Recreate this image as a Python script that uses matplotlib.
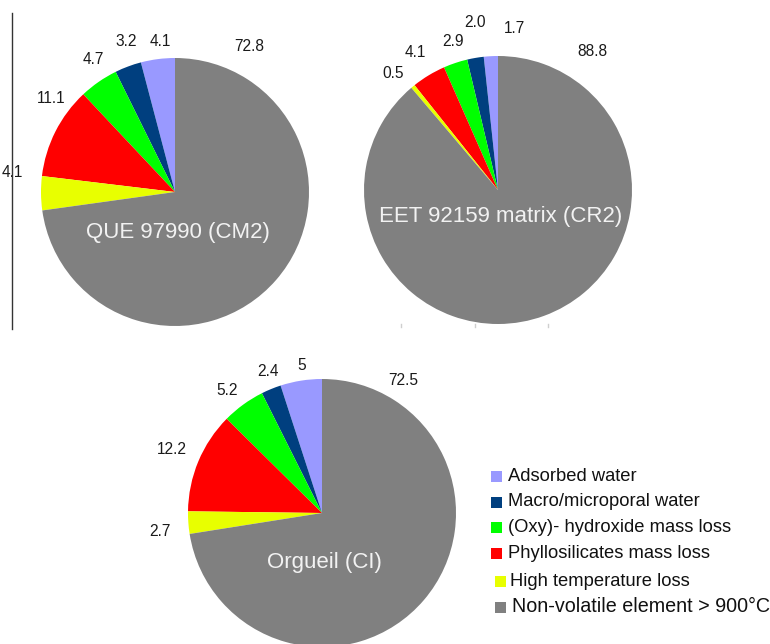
import matplotlib
matplotlib.use("Agg")
import matplotlib.pyplot as plt
from matplotlib.patches import Rectangle
from matplotlib.lines import Line2D
import numpy as np

plt.rcParams['font.family'] = ['Liberation Sans', 'DejaVu Sans']

# ---------------- data ----------------
categories = ["Adsorbed water", "Macro/microporal water", "(Oxy)- hydroxide mass loss",
              "Phyllosilicates mass loss", "High temperature loss", "Non-volatile element > 900°C"]
colors = ["#9999FF", "#003F7F", "#00FF00", "#FF0000", "#E8FF00", "#808080"]

sample_names = ["QUE 97990 (CM2)", "EET 92159 matrix (CR2)", "Orgueil (CI)"]
que_values = [4.1, 3.2, 4.7, 11.1, 4.1, 72.8]
eet_values = [1.7, 2.0, 2.9, 4.1, 0.5, 88.8]
org_values = [5.0, 2.4, 5.2, 12.2, 2.7, 72.5]
que_labels = ["4.1", "3.2", "4.7", "11.1", "4.1", "72.8"]
eet_labels = ["1.7", "2.0", "2.9", "4.1", "0.5", "88.8"]
org_labels = ["5", "2.4", "5.2", "12.2", "2.7", "72.5"]

# ---------------- layout ----------------
W, H = 770, 644
fig = plt.figure(figsize=(W / 100, H / 100), dpi=100)

R_PX = 134.0
L = 1.3
S = 2 * L * R_PX

pie_centers = [(175, 192), (498, 190), (322, 513)]  # pixels from top-left
label_angles = [
    [95.7, 108, 121.8, 143, 173, 62.8],
    [84, 98, 107, 121, 132, 55.5],
    [97.7, 111, 127.7, 157, 186.5, 58.6],
]
label_dists = [
    [1.13, 1.18, 1.16, 1.16, 1.22, 1.22],
    [1.21, 1.26, 1.16, 1.20, 1.17, 1.25],
    [1.11, 1.13, 1.16, 1.22, 1.22, 1.16],
]
title_offsets = [-0.30, -0.20, -0.37]

all_values = [que_values, eet_values, org_values]
all_labels = [que_labels, eet_labels, org_labels]

for i, (cx, cy) in enumerate(pie_centers):
    left = (cx - S / 2) / W
    bottom = (H - cy - S / 2) / H
    ax = fig.add_axes([left, bottom, S / W, S / H])
    ax.pie(all_values[i], colors=colors, startangle=90, counterclock=True,
           radius=1.0, wedgeprops=dict(linewidth=0))
    ax.set_xlim(-L, L)
    ax.set_ylim(-L, L)
    ax.set_aspect('equal')
    ax.axis('off')
    for txt, ang, d in zip(all_labels[i], label_angles[i], label_dists[i]):
        a = np.deg2rad(ang)
        ax.text(d * np.cos(a), d * np.sin(a), txt, ha='center', va='center',
                fontsize=11.2, color='#1a1a1a', clip_on=False)
    ax.text(0.02, title_offsets[i], sample_names[i], ha='center', va='center',
            fontsize=16, color='#f2f2f2')

# vertical line at the left
fig.add_artist(Line2D([12 / W, 12 / W], [1 - 13 / H, 1 - 329 / H],
                      transform=fig.transFigure, color='#333333', linewidth=1.0))
# faint tick marks under the second pie
for tx in (401, 475, 548):
    fig.add_artist(Line2D([tx / W, tx / W], [1 - 324 / H, 1 - 327 / H],
                          transform=fig.transFigure, color='#cfcfcf', linewidth=1.0))

# legend (manual)
leg_marker_x = [491, 491, 491, 491, 495, 495]
leg_text_x = [508, 508, 508, 508, 510, 512]
leg_font = [13.2, 13.2, 13.2, 13.2, 13.2, 14.2]
leg_y = [476.5, 502, 527.5, 553, 581, 607]
msz = 11
for k, (cat, col) in enumerate(zip(categories, colors)):
    y = leg_y[k]
    fig.add_artist(Rectangle((leg_marker_x[k] / W, (H - y - msz / 2) / H), msz / W, msz / H,
                             transform=fig.transFigure, facecolor=col, edgecolor='none'))
    fig.text(leg_text_x[k] / W, (H - y) / H, cat, ha='left', va='center',
             fontsize=leg_font[k], color='#111111')

fig.savefig("out.png", dpi=100)
